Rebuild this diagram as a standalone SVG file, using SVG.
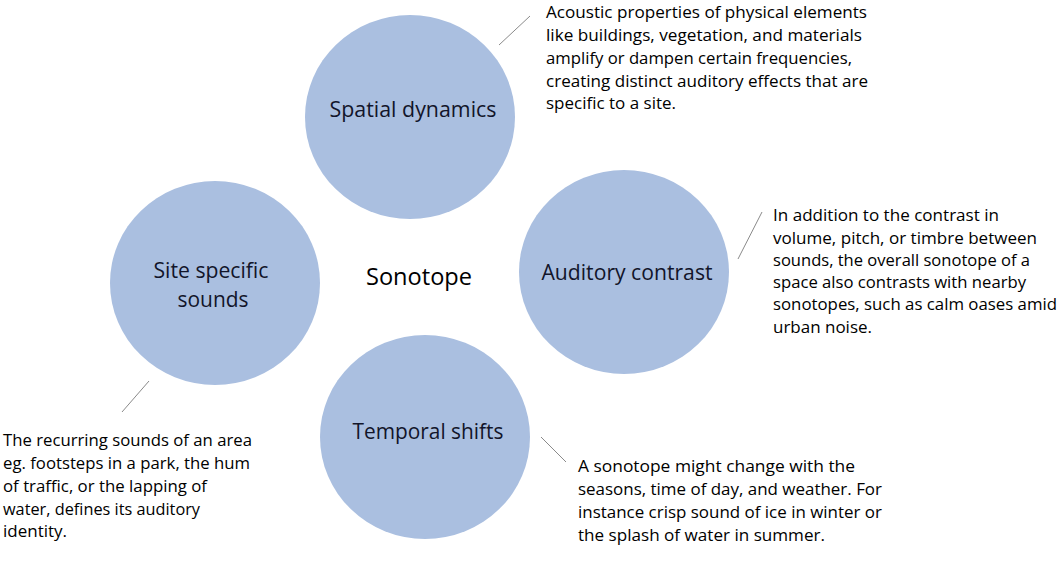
<svg xmlns="http://www.w3.org/2000/svg" width="1063" height="587" viewBox="0 0 1063 587">
<style>
.c{fill:#aabfe0}
.lbl{font-family:"Open Sans","Liberation Sans",sans-serif;font-size:22px;fill:#12152a;text-anchor:middle}
.desc{font-family:"Open Sans","Liberation Sans",sans-serif;font-size:17px;fill:#000}
.ln{stroke:#8a8a8a;stroke-width:1;fill:none}
</style>
<rect width="1063" height="587" fill="#fff"/>
<g id="connectors">
<line class="ln" x1="499" y1="45" x2="530" y2="16"/>
<line class="ln" x1="738" y1="259" x2="762" y2="212"/>
<line class="ln" x1="122" y1="412" x2="149" y2="381"/>
<line class="ln" x1="541" y1="437" x2="566" y2="462"/>
</g>
<g id="spatial">
<ellipse class="c" cx="410" cy="117" rx="105" ry="102"/>
<text class="lbl" x="413" y="117" textLength="167" lengthAdjust="spacingAndGlyphs">Spatial dynamics</text>
</g>
<g id="auditory">
<ellipse class="c" cx="624" cy="272" rx="105" ry="102"/>
<text class="lbl" x="627" y="280" textLength="171" lengthAdjust="spacingAndGlyphs">Auditory contrast</text>
</g>
<g id="temporal">
<ellipse class="c" cx="425" cy="437" rx="105" ry="102"/>
<text class="lbl" x="428" y="439" textLength="151" lengthAdjust="spacingAndGlyphs">Temporal shifts</text>
</g>
<g id="site">
<ellipse class="c" cx="215" cy="283" rx="105" ry="102"/>
<text class="lbl" x="211" y="278" textLength="115" lengthAdjust="spacingAndGlyphs">Site specific</text>
<text class="lbl" x="213" y="307" textLength="71" lengthAdjust="spacingAndGlyphs">sounds</text>
</g>
<g id="sonotope">
<text class="lbl" x="419" y="285" textLength="106" lengthAdjust="spacingAndGlyphs" style="font-size:24px;fill:#000">Sonotope</text>
</g>
<g id="desc-spatial">
<text class="desc" x="546" y="18" textLength="321" lengthAdjust="spacingAndGlyphs">Acoustic properties of physical elements</text>
<text class="desc" x="546" y="41" textLength="316" lengthAdjust="spacingAndGlyphs">like buildings, vegetation, and materials</text>
<text class="desc" x="546" y="64" textLength="306" lengthAdjust="spacingAndGlyphs">amplify or dampen certain frequencies,</text>
<text class="desc" x="546" y="87" textLength="322" lengthAdjust="spacingAndGlyphs">creating distinct auditory effects that are</text>
<text class="desc" x="546" y="109" textLength="130" lengthAdjust="spacingAndGlyphs">specific to a site.</text>
</g>
<g id="desc-auditory">
<text class="desc" x="773" y="221" textLength="226" lengthAdjust="spacingAndGlyphs">In addition to the contrast in</text>
<text class="desc" x="773" y="244" textLength="264" lengthAdjust="spacingAndGlyphs">volume, pitch, or timbre between</text>
<text class="desc" x="773" y="266" textLength="257" lengthAdjust="spacingAndGlyphs">sounds, the overall sonotope of a</text>
<text class="desc" x="773" y="288" textLength="253" lengthAdjust="spacingAndGlyphs">space also contrasts with nearby</text>
<text class="desc" x="773" y="310" textLength="284" lengthAdjust="spacingAndGlyphs">sonotopes, such as calm oases amid</text>
<text class="desc" x="773" y="333" textLength="99" lengthAdjust="spacingAndGlyphs">urban noise.</text>
</g>
<g id="desc-site">
<text class="desc" x="3" y="446" textLength="249" lengthAdjust="spacingAndGlyphs">The recurring sounds of an area</text>
<text class="desc" x="3" y="469" textLength="247" lengthAdjust="spacingAndGlyphs">eg. footsteps in a park, the hum</text>
<text class="desc" x="3" y="492" textLength="204" lengthAdjust="spacingAndGlyphs">of traffic, or the lapping of</text>
<text class="desc" x="3" y="515" textLength="197" lengthAdjust="spacingAndGlyphs">water, defines its auditory</text>
<text class="desc" x="3" y="537" textLength="64" lengthAdjust="spacingAndGlyphs">identity.</text>
</g>
<g id="desc-temporal">
<text class="desc" x="578" y="472" textLength="277" lengthAdjust="spacingAndGlyphs">A sonotope might change with the</text>
<text class="desc" x="578" y="495" textLength="304" lengthAdjust="spacingAndGlyphs">seasons, time of day, and weather. For</text>
<text class="desc" x="578" y="518" textLength="304" lengthAdjust="spacingAndGlyphs">instance crisp sound of ice in winter or</text>
<text class="desc" x="578" y="541" textLength="247" lengthAdjust="spacingAndGlyphs">the splash of water in summer.</text>
</g>
</svg>
